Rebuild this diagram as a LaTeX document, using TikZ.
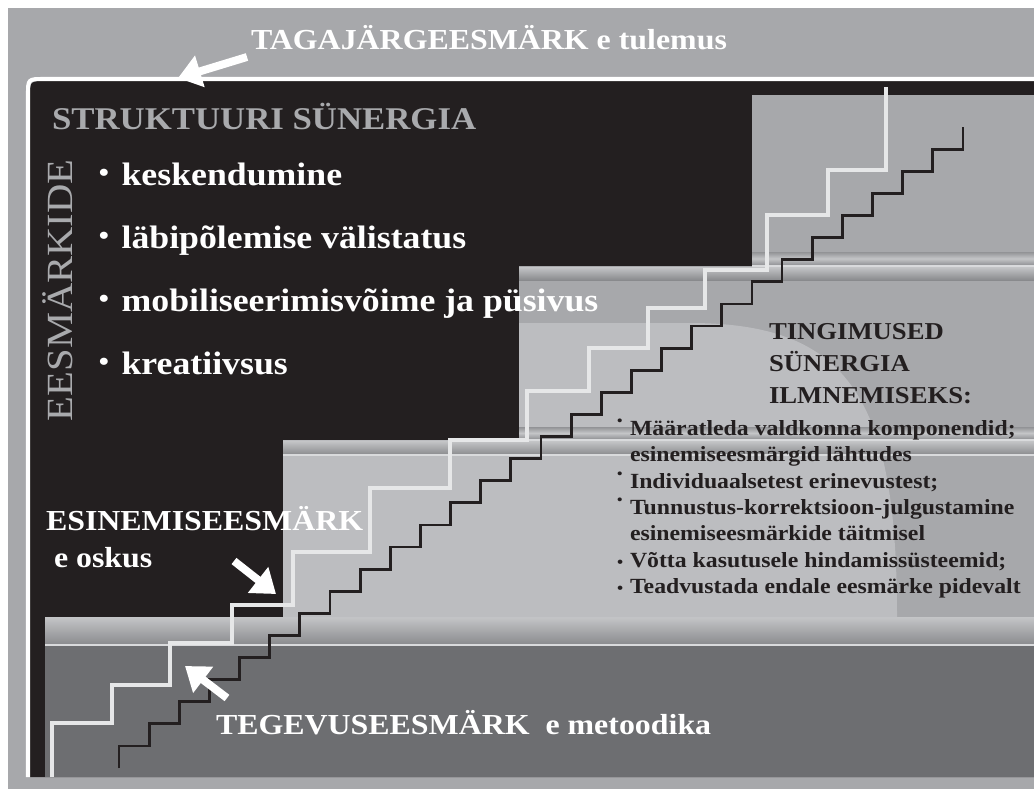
\documentclass[tikz,border=0pt]{standalone}
\usepackage{fontspec}
\setmainfont{Liberation Serif}[FakeStretch=1.1]
\usepackage{xcolor}
\usepackage{tikz}
\usetikzlibrary{arrows.meta}
\definecolor{FrameGray}{HTML}{A7A8AB}
\definecolor{PanelBlack}{HTML}{231F20}
\definecolor{FloorGray}{HTML}{6D6E71}
\definecolor{StepLight}{HTML}{BCBDC0}
\definecolor{StairWhite}{HTML}{E6E7E8}
\definecolor{BandHi}{HTML}{C4C5C7}
\definecolor{BandLo}{HTML}{898A8D}
\definecolor{TitleGray}{HTML}{A9AAAD}
\newcommand{\wbul}{\makebox[14pt][l]{\hspace{1pt}\raisebox{0.12em}{\fontsize{15}{15}\selectfont\textbullet}}}
\newcommand{\hibul}{\makebox[7.4pt][l]{\raisebox{0.42em}{\fontsize{8}{8}\selectfont\textbullet}}}
\newcommand{\lobul}{\makebox[7.4pt][l]{\fontsize{9}{9}\selectfont\textbullet}}
\newcommand{\nobul}{\hspace*{7.4pt}}

\begin{document}
\begin{tikzpicture}[x=0.02cm, y=-0.02cm,
    txt/.style={inner sep=0pt, outer sep=0pt, anchor=base west},
    whitelbl/.style={txt, text=white, font=\bfseries\fontsize{16.5}{19}\selectfont},
    bulletw/.style={txt, text=white, font=\bfseries\fontsize{18.5}{22}\selectfont},
    condhead/.style={txt, text=PanelBlack, font=\bfseries\fontsize{13.8}{16}\selectfont},
    condline/.style={txt, text=PanelBlack, font=\bfseries\fontsize{12.3}{14}\selectfont},
    topband/.style={top color=BandHi, bottom color=BandLo},
    lowband/.style={top color=BandLo!70!FrameGray, bottom color=BandLo!70!FrameGray, middle color=BandHi},
    seam/.style={draw=StairWhite!80!FrameGray, line width=0.7pt},
    bigarrow/.style={draw=white, line width=4.5pt, -{Triangle[width=18pt,length=13pt]}},
    lightstair/.style={draw=StairWhite, line width=2.7pt},
    darkstair/.style={draw=PanelBlack, line width=1.6pt}]
  \useasboundingbox (0,0) rectangle (1034,789);
  \fill[white] (0,0) rectangle (1034,789);
  \fill[FrameGray] (8,8) rectangle (1034,789);

  % black panel and its white edge
  \fill[PanelBlack] (30,777) -- (30,97) .. controls (30,81) and (30,81) .. (46,81)
    -- (1034,81) -- (1034,777) -- cycle;
  \draw[white, line width=2.3pt] (28,777) -- (28,95) .. controls (28,79) and (28,79) .. (44,79)
    -- (1034,79);

  % steps
  \fill[FloorGray] (45,617) rectangle (1034,777);
  \fill[topband] (45,617) rectangle (1034,645);
  \draw[seam] (45,645) -- (1034,645);
  \fill[FrameGray] (283,440) rectangle (1034,617);
  \fill[FrameGray] (519,266) rectangle (1034,440);
  \fill[FrameGray] (752,95) rectangle (1034,266);
  \fill[StepLight] (283,617) -- (283,440) -- (519,440) -- (519,323) -- (690,323)
    .. controls (850,323) and (897,400) .. (897,617) -- cycle;
  \fill[lowband] (752,252) rectangle (1034,265);
  \draw[seam] (752,266) -- (1034,266);
  \fill[topband] (519,267) rectangle (1034,280);
  \fill[lowband] (519,427) rectangle (1034,439);
  \draw[seam] (519,440) -- (1034,440);
  \fill[topband] (283,441) rectangle (1034,455);
  \draw[seam] (283,455) -- (1034,455);

  % stairs
  \draw[lightstair] (52,777) -- (52,723) -- (112,723) -- (112,685) -- (170,685) -- (170,643)
    -- (232,643) -- (232,605) -- (293,605) -- (293,552) -- (370,552) -- (370,488)
    -- (450,488) -- (450,440) -- (527,440) -- (527,391) -- (589,391) -- (589,348)
    -- (648,348) -- (648,308) -- (705,308) -- (705,270) -- (767,270) -- (767,215)
    -- (828,215) -- (828,170) -- (886,170) -- (886,87);
  \draw[darkstair] (119,768) \foreach \k in {1,...,28}{ -- ++(0,-22.1) -- ++(30.14,0)} -- ++(0,-22.1);

  % texts
  \node[whitelbl] (tagajarg) at (251,49) {TAGAJÄRGEESMÄRK e tulemus};
  \node[txt, text=TitleGray, font=\bfseries\fontsize{18}{21}\selectfont] (struktuur) at (52,129)
    {STRUKTUURI SÜNERGIA};
  \node[txt, rotate=90, text=TitleGray, font=\fontsize{21}{24}\selectfont] (eesmarkide) at (72,421)
    {EESMÄRKIDE};
  \node[bulletw] (kesk) at (97,185) {\wbul keskendumine};
  \node[bulletw] (labi) at (97,248) {\wbul läbipõlemise välistatus};
  \node[bulletw] (mobi) at (97,311) {\wbul mobiliseerimisvõime ja püsivus};
  \node[bulletw] (krea) at (97,374) {\wbul kreatiivsus};

  \node[whitelbl] (esinemis) at (46,530) {ESINEMISEESMÄRK};
  \node[whitelbl] (oskus) at (54,567) {e oskus};
  \node[whitelbl] (tegevus) at (216,734) {TEGEVUSEESMÄRK\ \ e metoodika};

  \node[condhead] (ting) at (769,339) {TINGIMUSED};
  \node[condhead] (syn) at (769,371) {SÜNERGIA};
  \node[condhead] (ilm) at (769,403) {ILMNEMISEKS:};
  \node[condline] (cond1) at (617,435) {\hibul Määratleda valdkonna komponendid;};
  \node[condline] (cond1b) at (617,461) {\nobul esinemiseesmärgid lähtudes};
  \node[condline] (cond2) at (617,488) {\hibul Individuaalsetest erinevustest;};
  \node[condline] (cond3) at (617,514) {\hibul Tunnustus-korrektsioon-julgustamine};
  \node[condline] (cond3b) at (617,540) {\nobul esinemiseesmärkide täitmisel};
  \node[condline] (cond4) at (617,567) {\lobul Võtta kasutusele hindamissüsteemid;};
  \node[condline] (cond5) at (617,593) {\lobul Teadvustada endale eesmärke pidevalt};

  % pointers
  \coordinate (tagtail) at (247,57);
  \coordinate (tagtip) at (178,78);
  \coordinate (esintail) at (234,561);
  \coordinate (esintip) at (276,594);
  \coordinate (tegtail) at (227,698);
  \coordinate (tegtip) at (185,666);
  \draw[bigarrow] (tagtail) -- (tagtip);
  \draw[bigarrow] (esintail) -- (esintip);
  \draw[bigarrow] (tegtail) -- (tegtip);
\end{tikzpicture}
\end{document}
